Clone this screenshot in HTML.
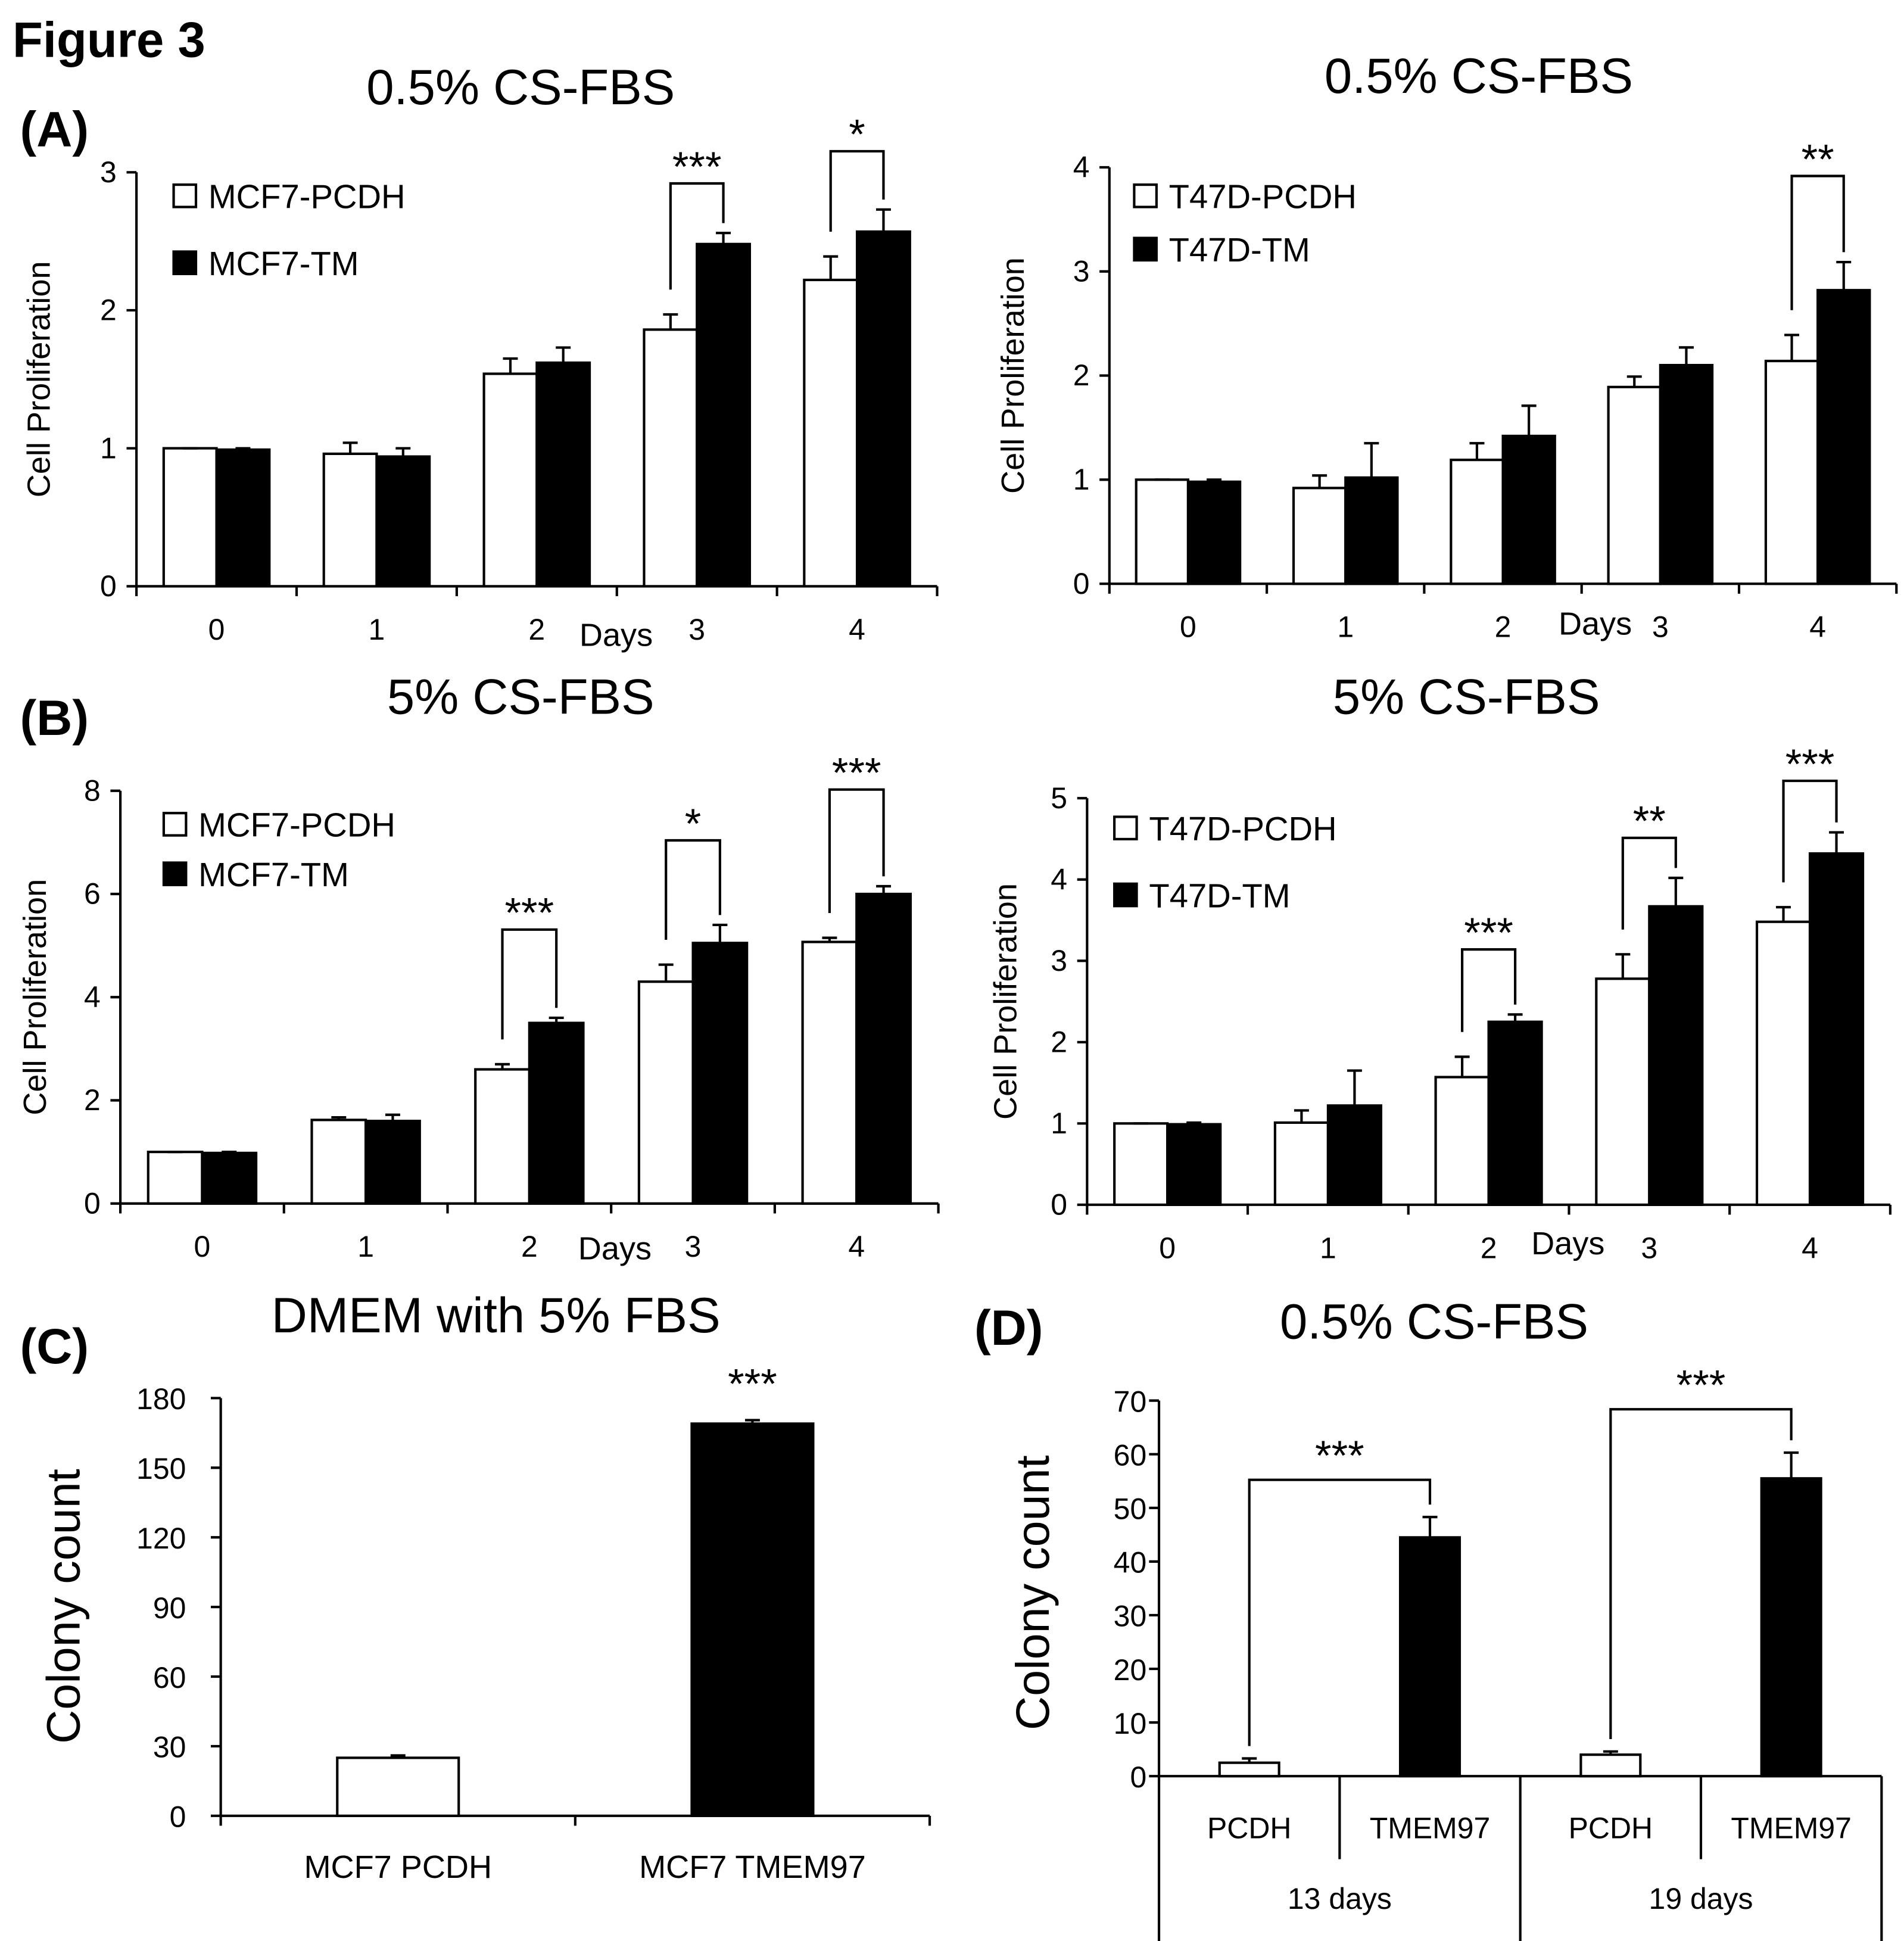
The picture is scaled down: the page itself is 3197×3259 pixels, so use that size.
<!DOCTYPE html>
<html><head><meta charset="utf-8"><style>
html,body{margin:0;padding:0;background:#fff}
svg{display:block;font-family:"Liberation Sans",sans-serif}
</style></head><body>
<svg id="fig" width="3197" height="3259" viewBox="0 0 1536 1566" xmlns="http://www.w3.org/2000/svg">
<text x="10" y="46" font-size="40" font-weight="bold">Figure 3</text>
<text x="16" y="118" font-size="40" font-weight="bold">(A)</text>
<text x="16" y="593" font-size="40" font-weight="bold">(B)</text>
<text x="16" y="1100" font-size="40" font-weight="bold">(C)</text>
<text x="786" y="1085" font-size="40" font-weight="bold">(D)</text>
</svg>
<script>
// Panel A left
const aL_days = ['0','1','2','3','4'];
const aL_pcdh = [1, 0.96, 1.54, 1.86, 2.22];
const aL_pcdhErr = [0, 0.08, 0.11, 0.11, 0.17];
const aL_tm = [0.99, 0.94, 1.62, 2.48, 2.57];
const aL_tmErr = [0.01, 0.06, 0.11, 0.08, 0.16];
const aL_ticks = [0, 1, 2, 3];
// Panel A right
const aR_days = ['0','1','2','3','4'];
const aR_pcdh = [1, 0.92, 1.19, 1.89, 2.14];
const aR_pcdhErr = [0, 0.12, 0.16, 0.1, 0.25];
const aR_tm = [0.98, 1.02, 1.42, 2.1, 2.82];
const aR_tmErr = [0.02, 0.33, 0.29, 0.17, 0.27];
const aR_ticks = [0, 1, 2, 3, 4];
// Panel B left
const bL_days = ['0','1','2','3','4'];
const bL_pcdh = [1, 1.62, 2.6, 4.3, 5.07];
const bL_pcdhErr = [0, 0.05, 0.1, 0.33, 0.08];
const bL_tm = [0.98, 1.6, 3.5, 5.05, 6.0];
const bL_tmErr = [0.02, 0.12, 0.1, 0.35, 0.15];
const bL_ticks = [0, 2, 4, 6, 8];
// Panel B right
const bR_days = ['0','1','2','3','4'];
const bR_pcdh = [1, 1.01, 1.57, 2.78, 3.48];
const bR_pcdhErr = [0, 0.15, 0.25, 0.3, 0.18];
const bR_tm = [0.99, 1.22, 2.25, 3.67, 4.32];
const bR_tmErr = [0.02, 0.43, 0.09, 0.35, 0.26];
const bR_ticks = [0, 1, 2, 3, 4, 5];
// Panel C
const c_cats = ['MCF7 PCDH', 'MCF7 TMEM97'];
const c_vals = [25, 169];
const c_errs = [1, 1.5];
const c_ticks = [0, 30, 60, 90, 120, 150, 180];
// Panel D
const d_cats = ['PCDH', 'TMEM97', 'PCDH', 'TMEM97'];
const d_groups = ['13 days', '19 days'];
const d_vals = [2.5, 44.5, 4, 55.5];
const d_errs = [0.8, 3.8, 0.6, 4.8];
const d_ticks = [0, 10, 20, 30, 40, 50, 60, 70];

const svg = document.getElementById('fig');
const NS = 'http://www.w3.org/2000/svg';
function mk(tag, attrs, parent, txt) {
  const e = document.createElementNS(NS, tag);
  for (const k in attrs) e.setAttribute(k, attrs[k]);
  if (txt !== undefined) e.textContent = txt;
  (parent || svg).appendChild(e);
  return e;
}
function line(x1,y1,x2,y2,p,w){return mk('line',{x1,y1,x2,y2,stroke:'#000','stroke-width':w||2},p);}

function prolifChart(o) {
  const g = mk('g', {});
  
  
  const yS = v => o.y0 - (v / o.yMax) * (o.y0 - o.yTop);
  const cw = (o.xEnd - o.x0) / o.days.length;
  line(o.x0, o.yTop, o.x0, o.y0, g);
  line(o.x0, o.y0, o.xEnd, o.y0, g);
  o.ticks.forEach(t => {
    line(o.x0 - 8, yS(t), o.x0, yS(t), g);
    const tl = mk('text', {x: o.x0 - 16, y: yS(t) + 8, 'font-size': 24, 'text-anchor': 'end'}, g, t);
    
    
  });
  for (let i = 0; i <= o.days.length; i++) line(o.x0 + i * cw, o.y0, o.x0 + i * cw, o.y0 + 8, g);
  const bw = cw * 0.33;
  o.days.forEach((d, i) => {
    const cx = o.x0 + (i + 0.5) * cw;
    const xl = mk('text', {x: cx, y: o.y0 + 43, 'font-size': 24, 'text-anchor': 'middle'}, g, d);
    
    
    [[o.pcdh, o.pcdhErr, '#fff', cx - bw], [o.tm, o.tmErr, '#000', cx]].forEach(([vals, errs, fill, x], s) => {
      const top = yS(vals[i]);
      const b = mk('rect', {x, y: top, width: bw, height: o.y0 - top, fill, stroke: '#000', 'stroke-width': 2}, g);
      
      
      const ey = yS(vals[i] + errs[i]);
      line(x + bw / 2, top, x + bw / 2, ey, g);
      line(x + bw / 2 - 6, ey, x + bw / 2 + 6, ey, g);
    });
  });
  [[o.leg[0], '#fff', o.legY[0]], [o.leg[1], '#000', o.legY[1]]].forEach(([t, f, y], k) => {
    const r = mk('rect', {x: o.legX, y: y - 9, width: 18, height: 18, fill: f, stroke: '#000', 'stroke-width': 2}, g);
    
    
    const lt = mk('text', {x: o.legX + 28, y: y + 10, 'font-size': 27}, g, t);
    
    
  });
  o.sig.forEach(([i, label, topY]) => {
    const cx = o.x0 + (i + 0.5) * cw;
    const xl = cx - bw / 2, xr = cx + bw / 2;
    const yl = yS(o.pcdh[i] + o.pcdhErr[i]) - 20, yr = yS(o.tm[i] + o.tmErr[i]) - 8;
    const p = mk('path', {d: `M${xl},${yl} L${xl},${topY} L${xr},${topY} L${xr},${yr}`, fill: 'none', stroke: '#000', 'stroke-width': 2}, g);
    
    
    const st = mk('text', {x: cx, y: topY - 2, 'font-size': 34, 'text-anchor': 'middle'}, g, label);
    
    
  });
  const tt = mk('text', {x: o.titleX, y: o.titleY, 'font-size': 40, 'text-anchor': 'middle'}, g, o.title);
  
  
  const yl = mk('text', {x: 0, y: 0, 'font-size': 26, 'text-anchor': 'middle', transform: `translate(${o.yLabX},${(o.yTop + o.y0) / 2}) rotate(-90)`}, g, 'Cell Proliferation');
  
  
  const dl = mk('text', {x: o.daysX, y: o.daysY, 'font-size': 26, 'text-anchor': 'middle'}, g, 'Days');
  
  
}

prolifChart({name:'chart-mcf7-05', days:aL_days, pcdh:aL_pcdh, pcdhErr:aL_pcdhErr, tm:aL_tm, tmErr:aL_tmErr, ticks:aL_ticks,
  yMax:3, x0:110, xEnd:756, y0:473, yTop:139, leg:['MCF7-PCDH','MCF7-TM'], legX:140, legY:[158,212],
  sig:[[3,'***',148],[4,'*',122]], title:'0.5% CS-FBS', titleX:420, titleY:84, yLabX:40, daysX:497, daysY:521});
prolifChart({name:'chart-t47d-05', days:aR_days, pcdh:aR_pcdh, pcdhErr:aR_pcdhErr, tm:aR_tm, tmErr:aR_tmErr, ticks:aR_ticks,
  yMax:4, x0:895, xEnd:1530, y0:471, yTop:135, leg:['T47D-PCDH','T47D-TM'], legX:915, legY:[158,201],
  sig:[[4,'**',142]], title:'0.5% CS-FBS', titleX:1193, titleY:75, yLabX:826, daysX:1287, daysY:512});
prolifChart({name:'chart-mcf7-5', days:bL_days, pcdh:bL_pcdh, pcdhErr:bL_pcdhErr, tm:bL_tm, tmErr:bL_tmErr, ticks:bL_ticks,
  yMax:8, x0:97, xEnd:757, y0:971, yTop:638, leg:['MCF7-PCDH','MCF7-TM'], legX:132, legY:[665,705],
  sig:[[2,'***',750],[3,'*',678],[4,'***',637]], title:'5% CS-FBS', titleX:420, titleY:576, yLabX:37, daysX:496, daysY:1016});
prolifChart({name:'chart-t47d-5', days:bR_days, pcdh:bR_pcdh, pcdhErr:bR_pcdhErr, tm:bR_tm, tmErr:bR_tmErr, ticks:bR_ticks,
  yMax:5, x0:877, xEnd:1525, y0:972, yTop:644, leg:['T47D-PCDH','T47D-TM'], legX:899, legY:[668,722],
  sig:[[2,'***',766],[3,'**',676],[4,'***',630]], title:'5% CS-FBS', titleX:1183, titleY:576, yLabX:820, daysX:1265, daysY:1012});

// Panel C
(function(){
  const g = mk('g', {});
  
  
  const x0 = 178, xEnd = 750, y0 = 1465, yTop = 1128, yMax = 180;
  const yS = v => y0 - v / yMax * (y0 - yTop);
  const cw = (xEnd - x0) / c_cats.length;
  line(x0, yTop, x0, y0, g); line(x0, y0, xEnd, y0, g);
  c_ticks.forEach(t => {
    line(x0 - 8, yS(t), x0, yS(t), g);
    const tl = mk('text', {x: x0 - 28, y: yS(t) + 9, 'font-size': 24, 'text-anchor': 'end'}, g, t);
    
    
  });
  for (let i = 0; i <= c_cats.length; i++) line(x0 + i * cw, y0, x0 + i * cw, y0 + 8, g);
  c_cats.forEach((c, i) => {
    const cx = x0 + (i + 0.5) * cw, bw = 98;
    const top = yS(c_vals[i]);
    const b = mk('rect', {x: cx - bw / 2, y: top, width: bw, height: y0 - top, fill: i ? '#000' : '#fff', stroke: '#000', 'stroke-width': 2}, g);
    
    
    const ey = yS(c_vals[i] + c_errs[i]);
    line(cx, top, cx, ey, g); line(cx - 6, ey, cx + 6, ey, g);
    const xl = mk('text', {x: cx, y: y0 + 50, 'font-size': 26, 'text-anchor': 'middle'}, g, c);
    
    
  });
  const st = mk('text', {x: x0 + 1.5 * cw, y: 1128, 'font-size': 34, 'text-anchor': 'middle'}, g, '***');
  
  
  const tt = mk('text', {x: 400, y: 1075, 'font-size': 40, 'text-anchor': 'middle'}, g, 'DMEM with 5% FBS');
  
  
  const yl = mk('text', {x: 0, y: 0, 'font-size': 38, 'text-anchor': 'middle', transform: 'translate(64,1296) rotate(-90)'}, g, 'Colony count');
  
  
})();

// Panel D
(function(){
  const g = mk('g', {});
  
  
  const x0 = 935, xEnd = 1518, y0 = 1433, yTop = 1130, yMax = 70;
  const yS = v => y0 - v / yMax * (y0 - yTop);
  const cw = (xEnd - x0) / d_cats.length;
  line(x0, yTop, x0, 1566, g); line(x0, y0, xEnd, y0, g);
  d_ticks.forEach(t => {
    line(x0 - 8, yS(t), x0, yS(t), g);
    const tl = mk('text', {x: x0 - 10, y: yS(t) + 9, 'font-size': 24, 'text-anchor': 'end'}, g, t);
    
    
  });
  line(x0 + cw, y0, x0 + cw, 1500, g); line(x0 + 3 * cw, y0, x0 + 3 * cw, 1500, g);
  line(x0 + 2 * cw, y0, x0 + 2 * cw, 1566, g); line(xEnd, y0, xEnd, 1566, g);
  d_cats.forEach((c, i) => {
    const cx = x0 + (i + 0.5) * cw, bw = 48;
    const top = yS(d_vals[i]);
    const b = mk('rect', {x: cx - bw / 2, y: top, width: bw, height: y0 - top, fill: i % 2 ? '#000' : '#fff', stroke: '#000', 'stroke-width': 2}, g);
    
    
    const ey = yS(d_vals[i] + d_errs[i]);
    line(cx, top, cx, ey, g); line(cx - 6, ey, cx + 6, ey, g);
    const xl = mk('text', {x: cx, y: 1483, 'font-size': 24, 'text-anchor': 'middle'}, g, c);
    
    
  });
  d_groups.forEach((gname, k) => {
    const gl = mk('text', {x: x0 + (2 * k + 1) * cw, y: 1540, 'font-size': 24, 'text-anchor': 'middle'}, g, gname);
    
    
    const i = 2 * k, cxl = x0 + (i + 0.5) * cw, cxr = x0 + (i + 1.5) * cw;
    const topY = yS(d_vals[i + 1] + d_errs[i + 1]) - 30 - k * 5;
    const yl = yS(d_vals[i] + d_errs[i]) - 10, yr = yS(d_vals[i + 1] + d_errs[i + 1]) - 10;
    const p = mk('path', {d: `M${cxl},${yl} L${cxl},${topY} L${cxr},${topY} L${cxr},${yr}`, fill: 'none', stroke: '#000', 'stroke-width': 2}, g);
    
    
    const st = mk('text', {x: (cxl + cxr) / 2, y: topY - 8, 'font-size': 34, 'text-anchor': 'middle'}, g, '***');
    
    
  });
  const tt = mk('text', {x: 1157, y: 1080, 'font-size': 40, 'text-anchor': 'middle'}, g, '0.5% CS-FBS');
  
  
  const yl = mk('text', {x: 0, y: 0, 'font-size': 38, 'text-anchor': 'middle', transform: 'translate(846,1285) rotate(-90)'}, g, 'Colony count');
  
  
})();
</script>
</body></html>
